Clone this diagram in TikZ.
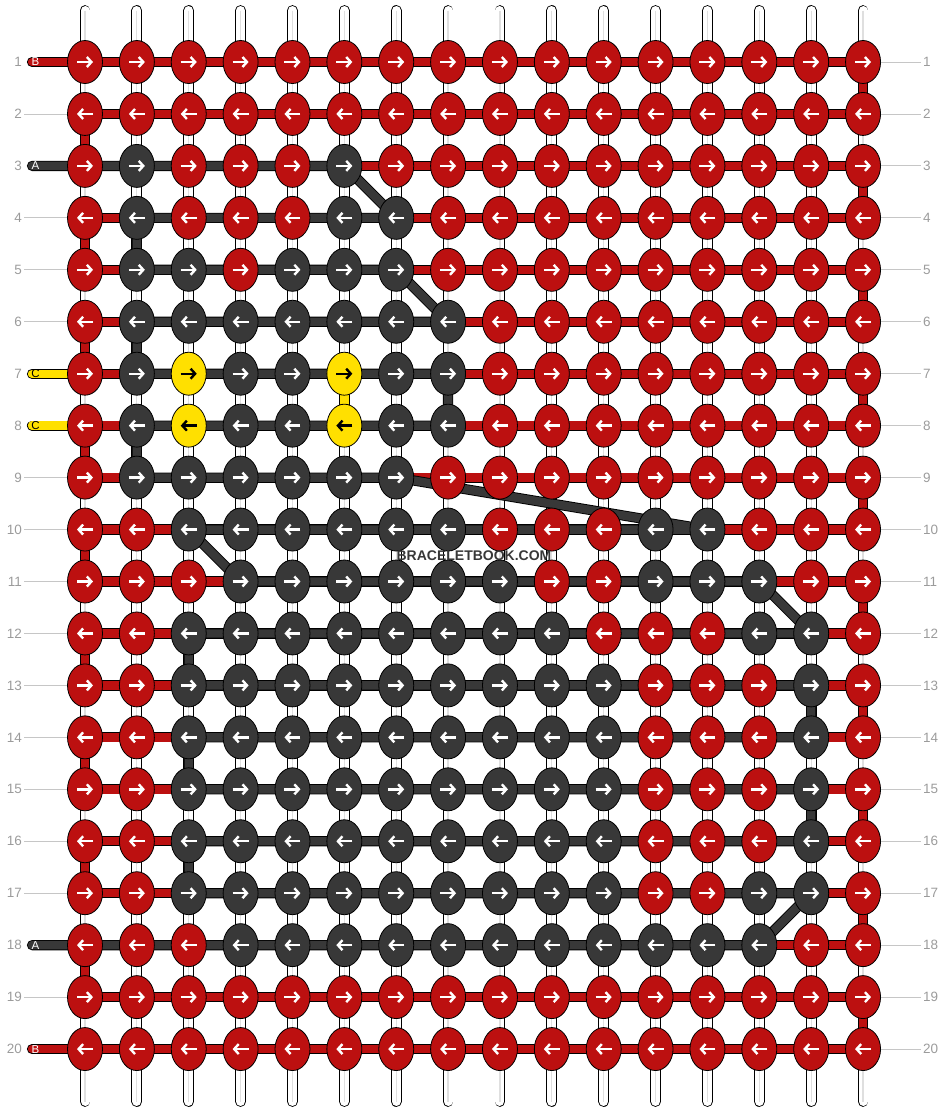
\documentclass[tikz,border=0pt]{standalone}
\usepackage{fontspec}
\setmainfont{Liberation Sans}
\usetikzlibrary{shapes.geometric}
\usetikzlibrary{arrows.meta}

\definecolor{knotred}{HTML}{BC1010}
\definecolor{knotdark}{HTML}{383838}
\definecolor{knotyel}{HTML}{FFE000}
\definecolor{numgray}{HTML}{9B9B9B}
\colorlet{kcR}{knotred}
\colorlet{kcD}{knotdark}
\colorlet{kcY}{knotyel}
\colorlet{acR}{white}
\colorlet{acD}{white}
\colorlet{acY}{black}

\pgfdeclarelayer{strands}
\pgfdeclarelayer{threads}
\pgfsetlayers{strands,threads,main}

\tikzset{
  knot/.style={ellipse, draw=black, line width=0.8pt, inner sep=0pt, minimum width=35pt, minimum height=43pt},
  arw/.style={line width=2.4pt, -{Straight Barb[length=4.5pt,width=10pt]}},
  thread/.style={draw=black, line width=0.9pt, double=#1, double distance=8.4pt, line join=round, line cap=round},
  strand/.style={draw=black, line width=0.9pt, double=white, double distance=9pt, line cap=round},
  rownum/.style={text=numgray, font=\fontsize{13.5}{14}\selectfont, inner sep=2pt},
  numline/.style={draw=gray!45, line width=0.9pt},
  endlbl/.style={font=\fontsize{11.5}{12}\selectfont, inner sep=0pt},
  wmtext/.style={text=knotdark, font=\bfseries\fontsize{14}{14}\selectfont, inner sep=1pt}
}

\begin{document}
\begin{tikzpicture}[x=1pt,y=-1pt]
\useasboundingbox (0,0) rectangle (948,1112);

% knots, row by row
\foreach \r/\row in {
  1/{R,R,R,R,R,R,R,R,R,R,R,R,R,R,R,R},
  2/{R,R,R,R,R,R,R,R,R,R,R,R,R,R,R,R},
  3/{R,D,R,R,R,D,R,R,R,R,R,R,R,R,R,R},
  4/{R,D,R,R,R,D,D,R,R,R,R,R,R,R,R,R},
  5/{R,D,D,R,D,D,D,R,R,R,R,R,R,R,R,R},
  6/{R,D,D,D,D,D,D,D,R,R,R,R,R,R,R,R},
  7/{R,D,Y,D,D,Y,D,D,R,R,R,R,R,R,R,R},
  8/{R,D,Y,D,D,Y,D,D,R,R,R,R,R,R,R,R},
  9/{R,D,D,D,D,D,D,R,R,R,R,R,R,R,R,R},
  10/{R,R,D,D,D,D,D,D,R,R,R,D,D,R,R,R},
  11/{R,R,R,D,D,D,D,D,D,R,R,D,D,D,R,R},
  12/{R,R,D,D,D,D,D,D,D,D,R,R,R,D,D,R},
  13/{R,R,D,D,D,D,D,D,D,D,D,R,R,R,D,R},
  14/{R,R,D,D,D,D,D,D,D,D,D,R,R,R,D,R},
  15/{R,R,D,D,D,D,D,D,D,D,D,R,R,R,D,R},
  16/{R,R,D,D,D,D,D,D,D,D,D,R,R,R,D,R},
  17/{R,R,D,D,D,D,D,D,D,D,D,R,R,D,D,R},
  18/{R,R,R,D,D,D,D,D,D,D,D,D,D,D,R,R},
  19/{R,R,R,R,R,R,R,R,R,R,R,R,R,R,R,R},
  20/{R,R,R,R,R,R,R,R,R,R,R,R,R,R,R,R}}{
  \foreach \kc [count=\c] in \row {
    \node[knot, fill=kc\kc] (k-\r-\c) at ({85+(\c-1)*51.87},{62+(\r-1)*51.95}) {};
    \ifodd\r\relax
      \draw[arw, draw=ac\kc] ([xshift=-8pt]k-\r-\c.center) -- ([xshift=8pt]k-\r-\c.center);
    \else
      \draw[arw, draw=ac\kc] ([xshift=8pt]k-\r-\c.center) -- ([xshift=-8pt]k-\r-\c.center);
    \fi
  }
}

% white base strings
\foreach \c in {1,...,16} {
  \coordinate (t-\c) at ({85+(\c-1)*51.87},10.5);
  \coordinate (b-\c) at ({85+(\c-1)*51.87},1101.5);
}
\begin{pgfonlayer}{strands}
\foreach \c in {1,...,16} {
  \draw[strand] (t-\c) -- (b-\c);
  \draw[gray!25, line width=1.2pt] (t-\c) -- (b-\c);
}
\end{pgfonlayer}

% thread ends with letters
\foreach \r/\lab/\fg in {1/B/white, 3/A/white, 7/C/black, 8/C/black, 18/A/white, 20/B/white} {
  \coordinate (s-\r) at (32,{62+(\r-1)*51.95});
  \node[endlbl, text=\fg] (lb-\r) at ([xshift=3.5pt]s-\r) {\lab};
}

% row numbers
\foreach \r in {1,...,20} {
  \node[rownum, anchor=east] (nl-\r) at (24,{62+(\r-1)*51.95}) {\r};
  \node[rownum, anchor=west] (nr-\r) at (921,{62+(\r-1)*51.95}) {\r};
  \draw[numline] (k-\r-16.east) -- (nr-\r.west);
}
\foreach \r in {2,4,5,6,9,10,11,12,13,14,15,16,17,19}
  \draw[numline] (nl-\r.east) -- (k-\r-1.west);

% threads
\begin{pgfonlayer}{threads}
\draw[thread=knotyel] (s-7) -- (k-7-6.center) -- (k-8-6.center) -- (s-8);
\draw[thread=knotred] (s-1)
  \foreach \r [evaluate=\r as \n using int(\r+1)] in {1,3,...,19} {
    -- (k-\r-1.center) -- (k-\r-16.center) -- (k-\n-16.center) -- (k-\n-1.center)
  } -- (s-20);
\draw[thread=knotdark] (s-3) -- (k-3-6.center) -- (k-4-7.center) -- (k-4-2.center)
  -- (k-5-2.center) -- (k-5-7.center) -- (k-6-8.center) -- (k-6-2.center)
  -- (k-7-2.center) -- (k-7-8.center) -- (k-8-8.center) -- (k-8-2.center)
  -- (k-9-2.center) -- (k-9-7.center) -- (k-10-13.center) -- (k-10-3.center)
  -- (k-11-4.center) -- (k-11-14.center) -- (k-12-15.center) -- (k-12-3.center)
  -- (k-13-3.center) -- (k-13-15.center) -- (k-14-15.center) -- (k-14-3.center)
  -- (k-15-3.center) -- (k-15-15.center) -- (k-16-15.center) -- (k-16-3.center)
  -- (k-17-3.center) -- (k-17-15.center) -- (k-18-14.center) -- (s-18);
\end{pgfonlayer}

\node[wmtext] (wm) at (474,556) {BRACELETBOOK.COM};
\end{tikzpicture}
\end{document}
